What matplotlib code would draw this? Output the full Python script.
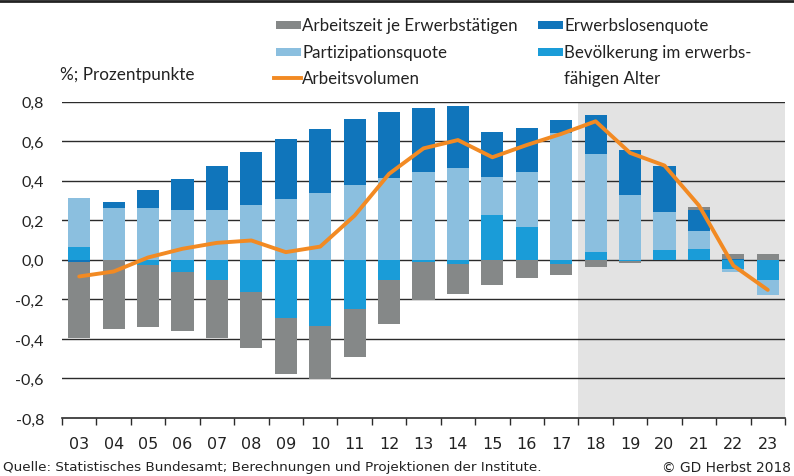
import numpy as np
import matplotlib
matplotlib.use("Agg")
import matplotlib.pyplot as plt
from matplotlib.patches import Rectangle
from matplotlib.lines import Line2D

plt.rcParams['font.family'] = ['Lato', 'DejaVu Sans']

# Beiträge zur Veränderung des Arbeitsvolumens
years = ['03', '04', '05', '06', '07', '08', '09', '10', '11', '12', '13',
         '14', '15', '16', '17', '18', '19', '20', '21', '22', '23']
bev = [0.066, 0.0, -0.024, -0.062, -0.104, -0.163, -0.295, -0.335, -0.249, -0.101, -0.013,
       -0.020, 0.227, 0.168, -0.020, 0.040, -0.005, 0.051, 0.056, -0.045, -0.101]
part = [0.247, 0.263, 0.263, 0.253, 0.253, 0.278, 0.308, 0.339, 0.379, 0.414, 0.446,
        0.465, 0.192, 0.278, 0.642, 0.496, 0.328, 0.192, 0.091, -0.014, -0.076]
erw = [-0.012, 0.030, 0.091, 0.156, 0.222, 0.268, 0.303, 0.323, 0.333, 0.332, 0.320,
       0.313, 0.228, 0.221, 0.064, 0.197, 0.228, 0.230, 0.106, 0.005, -0.003]
zeit = [-0.384, -0.352, -0.318, -0.300, -0.292, -0.283, -0.284, -0.266, -0.243, -0.221, -0.192,
        -0.155, -0.125, -0.094, -0.059, -0.034, -0.012, 0.0, 0.013, 0.025, 0.030]
vol = [-0.084, -0.059, 0.012, 0.056, 0.086, 0.098, 0.039, 0.067, 0.224, 0.435, 0.564,
       0.606, 0.519, 0.581, 0.637, 0.701, 0.541, 0.477, 0.275, -0.029, -0.152]

c_zeit = '#858888'
c_part = '#8bbfdf'
c_erw = '#1075bb'
c_bev = '#1a9cd8'
c_vol = '#f28a23'

W, H = 794, 477
fig = plt.figure(figsize=(W / 100, H / 100), dpi=100)
ax = fig.add_axes([62 / W, 1 - 419 / H, 723 / W, (419 - 102.7) / H])

x = np.arange(len(years))
ax.set_xlim(-0.5, len(years) - 0.5)
ax.set_ylim(-0.8, 0.8)

# Prognosezeitraum hinterlegen
ax.axvspan(14.5, len(years) - 0.5, color='#e3e3e3', zorder=0, lw=0)

for yv in np.arange(-0.6, 0.81, 0.2):
    ax.axhline(yv, color='#2b2b2b', lw=1.0, zorder=1)

# gestapelte Balken, positive nach oben, negative nach unten
pos = np.zeros(len(years))
neg = np.zeros(len(years))
for vals, col in [(bev, c_bev), (part, c_part), (erw, c_erw), (zeit, c_zeit)]:
    v = np.array(vals)
    bottom = np.where(v >= 0, pos, neg)
    ax.bar(x, v, bottom=bottom, width=0.64, color=col, zorder=2, lw=0)
    pos = pos + np.where(v >= 0, v, 0)
    neg = neg + np.where(v < 0, v, 0)

ax.plot(x, vol, color=c_vol, lw=2.8, zorder=3, solid_capstyle='round', solid_joinstyle='round')

for s in ['left', 'right', 'top']:
    ax.spines[s].set_visible(False)
ax.spines['bottom'].set_color('#2b2b2b')
ax.spines['bottom'].set_linewidth(1.2)

yt = np.round(np.arange(-0.8, 0.81, 0.2), 1)
ax.set_yticks(yt)
ax.set_yticklabels([('%.1f' % (t + 0.0)).replace('.', ',').replace('-0,0', '0,0') for t in yt],
                   fontsize=11.5, color='#222222')
ax.tick_params(axis='y', length=0, pad=13)

ax.set_xticks(x)
ax.set_xticklabels(years, fontsize=11.5, color='#222222', family=['Liberation Sans Narrow', 'DejaVu Sans'])
ax.set_xticks(np.arange(-0.5, len(years), 1.0), minor=True)
ax.tick_params(axis='x', which='major', length=0, pad=13)
ax.tick_params(axis='x', which='minor', length=5, width=1.0, color='#2b2b2b', direction='out')

fig.text(60 / W, 1 - 75 / H, '%; Prozentpunkte', fontsize=12.3, color='#222222', va='center', ha='left')

# Legende
def leg_patch(px, py, col):
    fig.patches.append(Rectangle((px / W, 1 - (py + 4) / H), 25 / W, 8 / H,
                                 transform=fig.transFigure, color=col, lw=0))

def leg_text(px, py, s):
    fig.text(px / W, 1 - py / H, s, fontsize=12.2, color='#222222', va='center', ha='left')

leg_patch(276, 26, c_zeit); leg_text(302, 26, 'Arbeitszeit je Erwerbstätigen')
leg_patch(276, 53, c_part); leg_text(302, 53, 'Partizipationsquote')
fig.lines.append(Line2D([274 / W, 301 / W], [1 - 79 / H, 1 - 79 / H], transform=fig.transFigure,
                        color=c_vol, lw=2.8))
leg_text(302, 79, 'Arbeitsvolumen')
leg_patch(538, 26, c_erw); leg_text(564, 26, 'Erwerbslosenquote')
leg_patch(538, 53, c_bev); leg_text(564, 53, 'Bevölkerung im erwerbs-')
leg_text(564, 79, 'fähigen Alter')

fig.lines.append(Line2D([0, 1], [1 - 1.5 / H, 1 - 1.5 / H], transform=fig.transFigure,
                        color='#222222', lw=2.0))

fig.text(3 / W, 1 - 468 / H, 'Quelle: Statistisches Bundesamt; Berechnungen und Projektionen der Institute.',
         fontsize=9.7, color='#222222', va='center', ha='left',
         family=['Liberation Sans Narrow', 'DejaVu Sans'])
fig.text(791 / W, 1 - 468 / H, '© GD Herbst 2018', fontsize=9.9, color='#222222', va='center', ha='right',
         family=['Liberation Sans Narrow', 'DejaVu Sans'])

fig.savefig('out.png', dpi=100)
